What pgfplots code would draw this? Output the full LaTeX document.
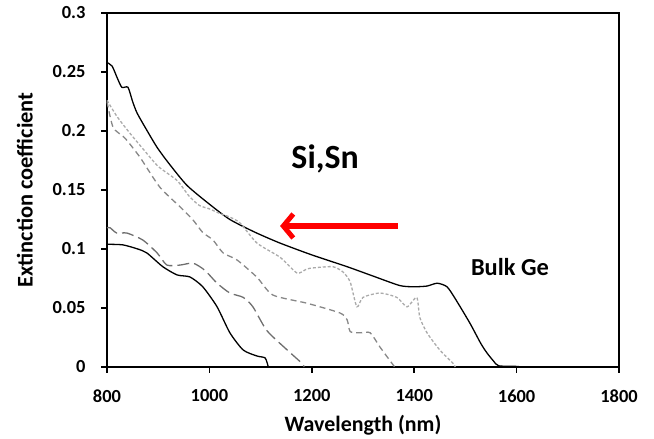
\documentclass[border=0pt]{standalone}
\usepackage{pgfplots}
\pgfplotsset{compat=1.18}
\usepackage{fontspec}
\setmainfont{Carlito}
\usetikzlibrary{calc,arrows.meta}
\definecolor{gA}{RGB}{110,110,110}
\definecolor{gB}{RGB}{135,135,135}
\definecolor{gC}{RGB}{170,170,170}
\begin{document}
\begin{tikzpicture}
\begin{axis}[
  scale only axis, width=512bp, height=354bp,
  xmin=800, xmax=1800, ymin=0, ymax=0.3,
  xtick={800,1000,...,1800}, ytick={0,0.05,...,0.3},
  axis line style={line width=1.8pt},
  tick style={line width=1.5pt, black},
  tick align=outside, major tick length=6bp,
  xtick pos=bottom, ytick pos=left,
  /pgf/number format/assume math mode=true,
  yticklabel style={/pgf/number format/fixed, /pgf/number format/precision=2, font=\fontsize{18.5}{20}\selectfont\bfseries, xshift=-12bp},
  xticklabel style={/pgf/number format/set thousands separator={}, font=\fontsize{18.5}{20}\selectfont\bfseries, yshift=-13bp},
  scaled y ticks=false,
  xlabel={Wavelength (nm)}, ylabel={Extinction coefficient},
  xlabel style={font=\fontsize{22}{25}\selectfont\bfseries, yshift=-6bp},
  ylabel style={font=\fontsize{22.5}{25}\selectfont\bfseries, yshift=13bp},
  clip=false,
]
% Bulk Ge
\addplot[black, line width=1.3pt, smooth, tension=0.4] coordinates {
(800,0.258)(810,0.255)(820,0.245)(829,0.237)(841,0.237)(850,0.225)(859,0.215)(880,0.199)(898,0.186)(920,0.173)(956,0.154)(1000,0.138)(1040,0.125)(1090,0.114)(1138,0.105)(1200,0.095)(1269,0.085)(1320,0.077)(1372,0.069)(1400,0.068)(1425,0.0686)(1445,0.071)(1464,0.068)(1480,0.058)(1509,0.037)(1530,0.020)(1542,0.012)(1555,0.005)(1565,0.001)(1600,0.0005)(1610,0)
};
% dotted
\addplot[gC, line width=1.3pt, dash pattern=on 3pt off 2pt, smooth, tension=0.4] coordinates {
(800,0.226)(820,0.212)(845,0.198)(870,0.185)(900,0.170)(937,0.158)(960,0.145)(980,0.137)(1000,0.134)(1021,0.130)(1040,0.127)(1060,0.122)(1093,0.105)(1138,0.093)(1171,0.0797)(1190,0.083)(1203,0.084)(1241,0.085)(1261,0.0805)(1275,0.072)(1288,0.051)(1300,0.059)(1333,0.0627)(1366,0.059)(1386,0.051)(1405,0.059)(1411,0.042)(1425,0.029)(1450,0.0144)(1476,0.003)(1480,0)
};
% medium dash
\addplot[gB, line width=1.3pt, dash pattern=on 6pt off 4pt, smooth, tension=0.4] coordinates {
(800,0.225)(812,0.203)(835,0.194)(864,0.178)(903,0.1525)(943,0.1356)(968,0.1246)(987,0.114)(1007,0.1076)(1027,0.0966)(1054,0.0907)(1093,0.076)(1124,0.061)(1191,0.054)(1255,0.0458)(1269,0.040)(1275,0.030)(1294,0.029)(1314,0.029)(1333,0.017)(1359,0.0017)(1362,0)
};
% long dash
\addplot[gA, line width=1.3pt, dash pattern=on 12pt off 5pt, smooth, tension=0.4] coordinates {
(800,0.118)(806,0.118)(819,0.1135)(839,0.1135)(870,0.1076)(898,0.0966)(917,0.0864)(943,0.0864)(968,0.088)(991,0.082)(1015,0.071)(1040,0.0627)(1066,0.059)(1085,0.051)(1112,0.031)(1152,0.0144)(1181,0.003)(1185,0)
};
% bottom solid
\addplot[black, line width=1.3pt, smooth, tension=0.4] coordinates {
(800,0.104)(831,0.1035)(860,0.100)(878,0.0966)(909,0.085)(937,0.078)(962,0.0763)(987,0.068)(1015,0.051)(1040,0.029)(1066,0.0144)(1093,0.0093)(1109,0.0076)(1115,0)
};
\draw[red, line width=6bp, -{Straight Barb[length=10bp, width=24bp, line width=5bp]}] (axis cs:1368,0.1195) -- (axis cs:1138,0.1195);
\node[font=\fontsize{34}{37}\selectfont\bfseries] at (axis cs:1226,0.176) {Si,Sn};
\node[font=\fontsize{24.5}{27}\selectfont\bfseries] at (axis cs:1587,0.085) {Bulk Ge};
\end{axis}
\path ($(current axis.south west)+(-107bp,-71bp)$) rectangle ($(current axis.north east)+(35bp,13bp)$);
\end{tikzpicture}
\end{document}
